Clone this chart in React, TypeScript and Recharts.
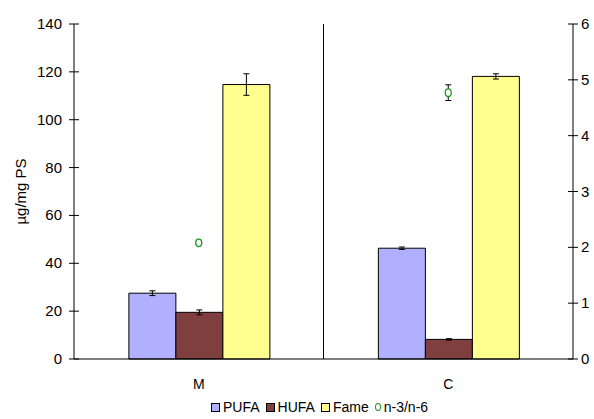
import { ComposedChart, Bar, Scatter, ErrorBar, XAxis, YAxis, CartesianGrid, Legend } from "recharts";

const categories = ["M", "C"];
const pufa = [27.5, 46.3];
const pufaErr = [1, 0.5];
const hufa = [19.5, 8.2];
const hufaErr = [1, 0.3];
const fame = [114.7, 118.1];
const fameErr = [4.5, 1.1];
const ratio = [2.08, 4.77];
const ratioErr = [0.03, 0.14];

const leftTicks = [0, 20, 40, 60, 80, 100, 120, 140];
const rightTicks = [0, 1, 2, 3, 4, 5, 6];

const data = categories.map((name, i) => ({
  name,
  pufa: pufa[i],
  pufaErr: pufaErr[i],
  hufa: hufa[i],
  hufaErr: hufaErr[i],
  fame: fame[i],
  fameErr: fameErr[i],
  ratio: ratio[i],
  ratioErr: ratioErr[i],
}));

const FONT = "'Liberation Sans', Arial, sans-serif";

const legendItems = [
  { label: "PUFA", color: "#b0b0ff", type: "square" },
  { label: "HUFA", color: "#7f3f3f", type: "square" },
  { label: "Fame", color: "#ffff8f", type: "square" },
  { label: "n-3/n-6", color: "#1a9a1a", type: "circle" },
];

const renderLegend = () => (
  <div style={{ display: "flex", alignItems: "center", fontFamily: FONT, fontSize: 14, color: "#000" }}>
    {legendItems.map((it) => (
      <div key={it.label} style={{ display: "flex", alignItems: "center", marginRight: 6 }}>
        {it.type === "square" ? (
          <span style={{ display: "inline-block", width: 7, height: 7, border: "1px solid #000", background: it.color, marginRight: 3 }} />
        ) : (
          <span style={{ display: "inline-block", width: 4, height: 6, border: `1.3px solid ${it.color}`, borderRadius: "50%", marginRight: 3 }} />
        )}
        <span>{it.label}</span>
      </div>
    ))}
  </div>
);

// tick label plus a short tick mark crossing the axis line
const LeftTick = (props: any) => {
  const { x, y, payload } = props;
  const ax = x + 12;
  return (
    <g>
      <line x1={ax - 5} x2={ax + 5} y1={y} y2={y} stroke="#000" />
      <text x={x} y={y} dy={5} textAnchor="end" fontSize={15} fontFamily={FONT} fill="#000">
        {payload.value}
      </text>
    </g>
  );
};

const RightTick = (props: any) => {
  const { x, y, payload } = props;
  const ax = x - 8;
  return (
    <g>
      <line x1={ax - 5} x2={ax + 5} y1={y} y2={y} stroke="#000" />
      <text x={x} y={y} dy={5} textAnchor="start" fontSize={15} fontFamily={FONT} fill="#000">
        {payload.value}
      </text>
    </g>
  );
};

const RatioDot = (props: any) => {
  const { cx, cy } = props;
  if (cx == null || cy == null) return null;
  return <ellipse cx={cx} cy={cy} rx={3} ry={3.8} fill="#fff" stroke="#1a9a1a" strokeWidth={1.3} />;
};

export default function App() {
  return (
    <div style={{ position: "absolute", left: 0, top: 0, background: "#fff" }}>
      <ComposedChart
        width={594}
        height={419}
        data={data}
        margin={{ top: 24, right: 0, bottom: 0, left: 0 }}
        barCategoryGap="22%"
        barGap={0}
      >
        <CartesianGrid
          horizontal={false}
          stroke="#000"
          verticalCoordinatesGenerator={({ offset }: any) => [offset.left + offset.width / 2]}
        />
        <XAxis
          dataKey="name"
          axisLine={{ stroke: "#000" }}
          tickLine={false}
          tickSize={0}
          tickMargin={20}
          height={40}
          tick={{ fill: "#000", fontSize: 14, fontFamily: FONT }}
        />
        <YAxis
          yAxisId="left"
          domain={[0, 140]}
          ticks={leftTicks}
          width={74}
          axisLine={{ stroke: "#000" }}
          tickLine={false}
          tickSize={0}
          tickMargin={12}
          tick={<LeftTick />}
          label={{ value: "µg/mg PS", angle: -90, position: "center", dx: -16, style: { fontSize: 15, fontFamily: FONT, fill: "#000" } }}
        />
        <YAxis
          yAxisId="right"
          orientation="right"
          domain={[0, 6]}
          ticks={rightTicks}
          width={21}
          axisLine={{ stroke: "#000" }}
          tickLine={false}
          tickSize={0}
          tickMargin={8}
          tick={<RightTick />}
        />
        <Bar yAxisId="left" dataKey="pufa" name="PUFA" fill="#b0b0ff" stroke="#000" strokeWidth={1} isAnimationActive={false}>
          <ErrorBar dataKey="pufaErr" width={3} stroke="#000" strokeWidth={1} direction="y" />
        </Bar>
        <Bar yAxisId="left" dataKey="hufa" name="HUFA" fill="#7f3f3f" stroke="#000" strokeWidth={1} isAnimationActive={false}>
          <ErrorBar dataKey="hufaErr" width={3} stroke="#000" strokeWidth={1} direction="y" />
        </Bar>
        <Bar yAxisId="left" dataKey="fame" name="Fame" fill="#ffff8f" stroke="#000" strokeWidth={1} isAnimationActive={false}>
          <ErrorBar dataKey="fameErr" width={3} stroke="#000" strokeWidth={1} direction="y" />
        </Bar>
        <Scatter yAxisId="right" dataKey="ratio" name="n-3/n-6" shape={RatioDot} isAnimationActive={false}>
          <ErrorBar dataKey="ratioErr" width={3} stroke="#000" strokeWidth={1} direction="y" />
        </Scatter>
        <Legend
          verticalAlign="bottom"
          height={20}
          content={renderLegend}
          wrapperStyle={{ left: 211, bottom: 0, width: "auto" }}
        />
      </ComposedChart>
    </div>
  );
}
